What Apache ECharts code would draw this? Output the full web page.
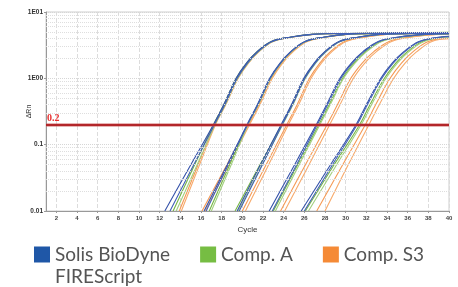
<!DOCTYPE html>
<html>
<head>
<meta charset="utf-8">
<script src="https://cdn.jsdelivr.net/npm/echarts@6.0.0/dist/echarts.min.js"></script>
<style>
  html, body { margin: 0; padding: 0; background: #fff; }
  #chart { width: 458px; height: 287px; }
</style>
</head>
<body>
<div id="chart"></div>
<script>
// dRn levels that every curve passes through, and the cycle each curve reaches them at
const rnLevels = [0.01, 0.045, 0.2, 0.4, 1.0, 1.7, 2.5, 3.6, 4.2, 4.6, 4.75];

const blueCycles = [
  [12.5, 14.85, 17.2, 18.2, 19.4, 20.4, 21.4, 22.8, 24.7, 26.7, 30.2],
  [13.0, 15.15, 17.3, 18.3, 19.5, 20.5, 21.5, 22.9, 24.8, 26.8, 30.3],
  [16.3, 18.4, 20.45, 21.45, 22.65, 23.65, 24.65, 26.05, 27.95, 29.95, 33.45],
  [16.5, 18.5, 20.5, 21.5, 22.7, 23.7, 24.7, 26.1, 28.0, 30.0, 33.5],
  [19.5, 21.6, 23.75, 24.75, 25.95, 26.95, 27.95, 29.35, 31.25, 33.25, 36.75],
  [19.7, 21.8, 23.85, 24.85, 26.05, 27.05, 28.05, 29.45, 31.35, 33.35, 36.85],
  [22.6, 24.9, 27.15, 28.15, 29.45, 30.55, 31.65, 33.15, 35.15, 37.65],
  [22.9, 25.1, 27.25, 28.25, 29.55, 30.65, 31.75, 33.25, 35.25, 37.75],
  [25.7, 28.35, 31.0, 32.0, 33.4, 34.5, 35.6, 37.1, 39.2],
  [26.0, 28.55, 31.1, 32.1, 33.5, 34.6, 35.7, 37.2, 39.3]
];
const blueEnds = [4.9, 4.85, 4.85, 4.8, 4.85, 4.8, 4.7, 4.7, 4.3, 4.25];

const greenCycles = [
  [13.3, 15.25, 17.2, 18.2, 19.4, 20.4, 21.4, 22.8, 24.7, 26.7, 30.2],
  [13.6, 15.5, 17.35, 18.35, 19.55, 20.55, 21.55, 22.95, 24.85, 26.85, 30.35],
  [16.8, 18.65, 20.5, 21.5, 22.7, 23.7, 24.7, 26.1, 28.0, 30.0, 33.5],
  [17.0, 18.8, 20.55, 21.55, 22.75, 23.75, 24.75, 26.15, 28.05, 30.05, 33.55],
  [19.3, 21.55, 23.8, 24.8, 26.0, 27.0, 28.0, 29.4, 31.3, 33.3, 36.8],
  [19.6, 21.75, 23.9, 24.9, 26.1, 27.1, 28.1, 29.5, 31.4, 33.4, 36.9],
  [23.0, 25.2, 27.4, 28.4, 29.7, 30.8, 31.9, 33.4, 35.4, 37.9],
  [23.2, 25.35, 27.5, 28.5, 29.8, 30.9, 32.0, 33.5, 35.5, 38.0],
  [26.1, 28.7, 31.35, 32.35, 33.75, 34.85, 35.95, 37.45, 39.55],
  [26.4, 28.95, 31.5, 32.5, 33.9, 35.0, 36.1, 37.6, 39.7]
];
const greenEnds = [4.95, 4.85, 4.9, 4.8, 4.85, 4.8, 4.7, 4.65, 4.25, 4.2];

const orangeCycles = [
  [13.9, 15.6, 17.3, 18.3, 19.5, 20.5, 21.5, 22.9, 24.8, 26.8, 30.3],
  [14.1, 15.75, 17.4, 18.4, 19.6, 20.6, 21.6, 23.0, 24.9, 26.9, 30.4],
  [16.1, 18.35, 20.6, 21.6, 22.8, 23.8, 24.8, 26.2, 28.1, 30.1, 33.6],
  [16.4, 18.55, 20.7, 21.7, 22.9, 23.9, 24.9, 26.3, 28.2, 30.2, 33.7],
  [20.0, 22.15, 24.3, 25.3, 26.5, 27.5, 28.5, 29.9, 31.8, 33.8, 37.3],
  [20.3, 22.4, 24.45, 25.45, 26.65, 27.65, 28.65, 30.05, 31.95, 33.95, 37.45],
  [23.7, 25.95, 28.2, 29.2, 30.5, 31.6, 32.7, 34.2, 36.2, 38.7],
  [24.1, 26.3, 28.45, 29.45, 30.75, 31.85, 32.95, 34.45, 36.45, 38.95],
  [27.2, 29.55, 31.9, 32.9, 34.3, 35.4, 36.5, 38.0],
  [28.0, 30.1, 32.25, 33.25, 34.65, 35.75, 36.85, 38.35]
];
const orangeEnds = [4.8, 4.8, 4.75, 4.7, 4.75, 4.7, 4.65, 4.6, 4.0, 3.95];

const lastCycle = 40;
const threshold = 0.2;
const legendNames = ['Solis BioDyne\nFIREScript', 'Comp. A', 'Comp. S3'];
const xTicks = [2, 4, 6, 8, 10, 12, 14, 16, 18, 20, 22, 24, 26, 28, 30, 32, 34, 36, 38, 40];
const yTickLabels = { '-2': '0.01', '-1': '0.1', '0': '1E00', '1': '1E01' };
const yMinorGrid = [0.02, 0.03, 0.04, 0.05, 0.06, 0.07, 0.08, 0.09,
  0.2, 0.3, 0.4, 0.5, 0.6, 0.7, 0.8, 0.9, 2, 3, 4, 5, 6, 7, 8, 9];

function curves(name, colors, cyclesList, ends) {
  return cyclesList.map((cycles, i) => ({
    name: name,
    type: 'line',
    symbol: 'none',
    smooth: 0.4,
    z: 3,
    lineStyle: { width: 1.1, color: colors[i % colors.length] },
    itemStyle: { color: colors[0] },
    data: cycles.map((c, k) => [c, rnLevels[k]]).concat([[lastCycle, ends[i]]])
  }));
}

const series = [].concat(
  [{
    type: 'line', data: [], z: 1, silent: true,
    markLine: {
      silent: true, symbol: 'none', animation: false,
      label: { show: false },
      lineStyle: { color: '#dedede', type: 'dotted', width: 1 },
      data: yMinorGrid.map(v => ({ yAxis: v }))
    }
  }],
  curves(legendNames[2], ['#f59a55', '#f7aa6c'], orangeCycles, orangeEnds),
  curves(legendNames[1], ['#76b645', '#a2cf7e'], greenCycles, greenEnds),
  curves(legendNames[0], ['#3451a9', '#4261b6'], blueCycles, blueEnds),
  [{
    type: 'line', data: [], z: 6, silent: true,
    markLine: {
      silent: true, symbol: 'none', animation: false,
      data: [
        { yAxis: threshold, lineStyle: { color: 'rgba(205,90,90,0.45)', width: 4, type: 'solid' }, label: { show: false } },
        { yAxis: threshold, lineStyle: { color: '#b3262a', width: 2, type: 'solid' },
          label: { show: true, formatter: String(threshold), position: 'insideStartTop', distance: [1, 1],
            color: '#e83030', fontSize: 10, fontWeight: 'bold', fontFamily: 'Liberation Serif' } }
      ]
    }
  }]
);

const chart = echarts.init(document.getElementById('chart'), null, { renderer: 'canvas' });
chart.setOption({
  animation: false,
  backgroundColor: '#fff',
  grid: { left: 46, right: 9, top: 12, bottom: 76, show: true, borderColor: '#cfcfcf', borderWidth: 1 },
  xAxis: {
    type: 'value', min: 1, max: lastCycle,
    name: 'Cycle', nameLocation: 'middle', nameGap: 15, nameMoveOverlap: false,
    nameTextStyle: { fontSize: 8, color: '#333', fontFamily: 'Liberation Sans' },
    axisLine: { lineStyle: { color: '#999' } },
    axisTick: { show: true, length: 2, customValues: xTicks, lineStyle: { color: '#999' } },
    axisLabel: { customValues: xTicks, fontSize: 6, color: '#444', margin: 4, fontFamily: 'Liberation Sans', fontWeight: 'bold' },
    splitLine: { show: true, lineStyle: { color: '#dcdcdc', type: 'dashed', width: 1 } }
  },
  yAxis: {
    type: 'log', logBase: 10, min: 0.01, max: 10,
    name: 'ΔRn', nameLocation: 'middle', nameGap: 13, nameMoveOverlap: false,
    nameTextStyle: { fontSize: 7, color: '#333', fontFamily: 'Liberation Sans' },
    axisLine: { show: true, lineStyle: { color: '#999' } },
    axisTick: { show: true, length: 2, lineStyle: { color: '#999' } },
    axisLabel: {
      fontSize: 6.5, color: '#333', margin: 3, fontFamily: 'Liberation Sans', fontWeight: 'bold',
      formatter: v => yTickLabels[String(Math.round(Math.log10(v)))] || ''
    },
    splitLine: { show: true, lineStyle: { color: '#d6d6d6', type: 'dotted', width: 1 } }
  },
  legend: {
    left: 34, top: 223, padding: 0,
    orient: 'horizontal', icon: 'rect',
    itemWidth: 16, itemHeight: 16, itemGap: 30,
    selectedMode: false,
    formatter: name => name.indexOf('\n') >= 0
      ? '{gap| }\n' + name.split('\n').map(s => '{t|' + s + '}').join('\n')
      : '{t|' + name + '}',
    textStyle: {
      fontFamily: 'Lato', fontSize: 19, color: '#555',
      rich: {
        t: { fontFamily: 'Lato', fontSize: 19, color: '#555', lineHeight: 22 },
        gap: { fontSize: 19, lineHeight: 22 }
      }
    },
    data: [
      { name: legendNames[0], itemStyle: { color: '#1f57a7' } },
      { name: legendNames[1], itemStyle: { color: '#76bd43' } },
      { name: legendNames[2], itemStyle: { color: '#f58a36' } }
    ]
  },
  series: series
});
</script>
</body>
</html>
